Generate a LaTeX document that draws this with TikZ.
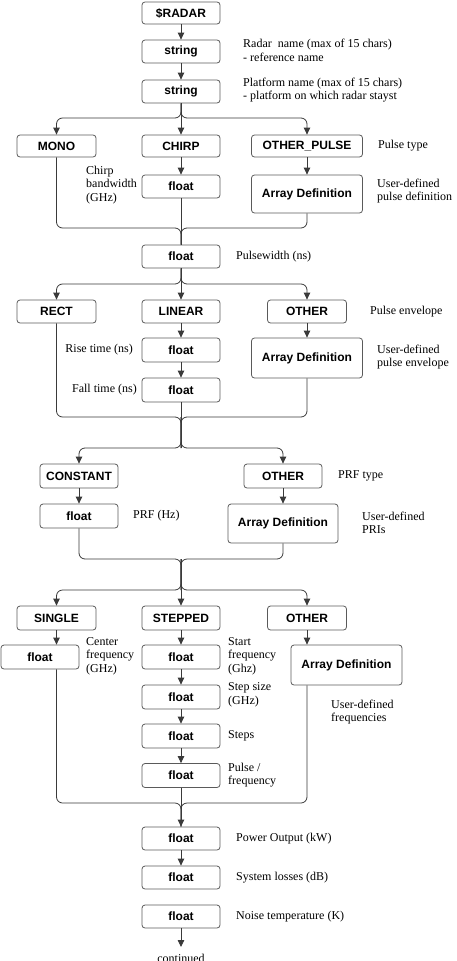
\documentclass[tikz,border=0pt]{standalone}
\usepackage{fontspec}
\setmainfont{Liberation Serif}
\setsansfont{Liberation Sans}
\usetikzlibrary{arrows.meta}
\definecolor{boxc}{HTML}{5A5A5A}
\definecolor{linec}{HTML}{3A3A3A}
\tikzset{
  box/.style={draw=boxc, line width=0.8pt, rounded corners=3pt, inner sep=0pt, align=center,
    font=\sffamily\bfseries\fontsize{12}{14}\selectfont, text=black},
  bx/.style 2 args={box, minimum width=#1, minimum height=#2},
  lbl/.style={anchor=west, inner sep=0pt, align=left, font=\fontsize{12}{13.5}\selectfont},
  lble/.style={anchor=east, inner sep=0pt, align=right, font=\fontsize{12}{13.5}\selectfont},
  conn/.style={draw=linec, line width=0.8pt, rounded corners=6pt},
  arr/.style={conn, -{Triangle[width=6.5pt,length=7pt]}},
}
\begin{document}
\begin{tikzpicture}[x=1pt,y=-1pt]
\useasboundingbox (0,0) rectangle (456,961);
% boxes
\node[bx={78}{22}] (radar) at (181,13) {\$RADAR};
\node[bx={78}{23}] (s1) at (181,51.5) {string};
\node[bx={78}{23}] (s2) at (181,91.5) {string};
\node[bx={79}{22}] (mono) at (56.5,146) {MONO};
\node[bx={78}{22}] (chirp) at (181,146) {CHIRP};
\node[bx={111}{22}] (opulse) at (307,146) {OTHER\_PULSE};
\node[bx={78}{23}] (cf) at (181,186.5) {float};
\node[bx={111}{38}] (apulse) at (307,194) {Array Definition};
\node[bx={78}{23}] (pw) at (181,256.5) {float};
\node[bx={79}{23}] (rect) at (56.5,311.5) {RECT};
\node[bx={78}{23}] (linear) at (181,311.5) {LINEAR};
\node[bx={79}{23}] (oenv) at (307,311.5) {OTHER};
\node[bx={78}{24}] (rise) at (181,350) {float};
\node[bx={78}{24}] (fall) at (181,390) {float};
\node[bx={111}{40}] (aenv) at (307,358) {Array Definition};
\node[bx={78}{24}] (const) at (79,476) {CONSTANT};
\node[bx={78}{24}] (oprf) at (283,476) {OTHER};
\node[bx={78}{24}] (prf) at (79,516) {float};
\node[bx={110}{39}] (apri) at (283,523.5) {Array Definition};
\node[bx={79}{24}] (single) at (56.5,618) {SINGLE};
\node[bx={78}{24}] (stepped) at (181,618) {STEPPED};
\node[bx={79}{24}] (ofreq) at (307,618) {OTHER};
\node[bx={78}{24}] (fs) at (40,657) {float};
\node[bx={78}{24}] (st1) at (181,657) {float};
\node[bx={78}{24}] (st2) at (181,697) {float};
\node[bx={78}{24}] (st3) at (181,736) {float};
\node[bx={78}{24}] (st4) at (181,775.5) {float};
\node[bx={111}{40}] (afreq) at (346.5,665) {Array Definition};
\node[bx={78}{23}] (power) at (181,838.5) {float};
\node[bx={78}{23}] (losses) at (181,877.5) {float};
\node[bx={78}{23}] (noise) at (181,916.5) {float};
% junction coordinates
\coordinate (j1) at (181,118);
\coordinate (m1) at (181,228);
\coordinate (j2) at (181,284);
\coordinate (m2) at (181,417);
\coordinate (j3) at (181,448);
\coordinate (m3) at (181,559);
\coordinate (j4) at (181,590);
\coordinate (m4) at (181,803);
\coordinate (cont) at (181,947);
% connectors
\draw[arr] (radar.south) -- (s1.north);
\draw[arr] (s1.south) -- (s2.north);
\draw[arr] (s2.south) -- (j1) -- (j1 -| mono.north) -- (mono.north);
\draw[arr] (s2.south) -- (chirp.north);
\draw[arr] (s2.south) -- (j1) -- (j1 -| opulse.north) -- (opulse.north);
\draw[arr] (chirp.south) -- (cf.north);
\draw[arr] (opulse.south) -- (apulse.north);
\draw[conn] (mono.south) -- (mono.south |- m1) -- (m1) -- (pw.north);
\draw[conn] (cf.south) -- (pw.north);
\draw[conn] (apulse.south) -- (apulse.south |- m1) -- (m1) -- (pw.north);
\draw[arr] (pw.south) -- (j2) -- (j2 -| rect.north) -- (rect.north);
\draw[arr] (pw.south) -- (linear.north);
\draw[arr] (pw.south) -- (j2) -- (j2 -| oenv.north) -- (oenv.north);
\draw[arr] (linear.south) -- (rise.north);
\draw[arr] (rise.south) -- (fall.north);
\draw[arr] (oenv.south) -- (aenv.north);
\draw[conn] (rect.south) -- (rect.south |- m2) -- (m2) -- (j3);
\draw[conn] (fall.south) -- (j3);
\draw[conn] (aenv.south) -- (aenv.south |- m2) -- (m2) -- (j3);
\draw[arr] (m2) -- (j3) -- (j3 -| const.north) -- (const.north);
\draw[arr] (m2) -- (j3) -- (j3 -| oprf.north) -- (oprf.north);
\draw[arr] (const.south) -- (prf.north);
\draw[arr] (oprf.south) -- (apri.north);
\draw[conn] (prf.south) -- (prf.south |- m3) -- (m3) -- (j4);
\draw[conn] (apri.south) -- (apri.south |- m3) -- (m3) -- (j4);
\draw[arr] (m3) -- (j4) -- (j4 -| single.north) -- (single.north);
\draw[arr] (m3) -- (stepped.north);
\draw[arr] (m3) -- (j4) -- (j4 -| ofreq.north) -- (ofreq.north);
\draw[arr] (single.south) -- (single.south |- fs.north);
\draw[arr] (stepped.south) -- (st1.north);
\draw[arr] (st1.south) -- (st2.north);
\draw[arr] (st2.south) -- (st3.north);
\draw[arr] (st3.south) -- (st4.north);
\draw[arr] (ofreq.south) -- (ofreq.south |- afreq.north);
\draw[conn] (single.south |- fs.south) -- (single.south |- m4) -- (m4) -- (power.north);
\draw[conn] (ofreq.south |- afreq.south) -- (ofreq.south |- m4) -- (m4) -- (power.north);
\draw[arr] (st4.south) -- (power.north);
\draw[arr] (power.south) -- (losses.north);
\draw[arr] (noise.south) -- (cont);
% labels
\node[lbl] (l1) at (243,50.5) {Radar\ \ name (max of 15 chars)\\- reference name};
\node[lbl] (l2) at (243,90) {Platform name (max of 15 chars)\\- platform on which radar stayst};
\node[lbl] (l3) at (378,146) {Pulse type};
\node[lbl] (l4) at (86,185) {Chirp\\bandwidth\\(GHz)};
\node[lbl] (l5) at (377,191) {User-defined\\pulse definition};
\node[lbl] (l6) at (236,256.5) {Pulsewidth (ns)};
\node[lbl] (l7) at (370,311.5) {Pulse envelope};
\node[lble] (l8) at (133,350) {Rise time (ns)};
\node[lble] (l9) at (137,390) {Fall time (ns)};
\node[lbl] (l10) at (377,357) {User-defined\\pulse envelope};
\node[lbl] (l11) at (338,476) {PRF type};
\node[lbl] (l12) at (133,516) {PRF (Hz)};
\node[lbl] (l13) at (362,523) {User-defined\\PRIs};
\node[lbl] (l14) at (86,656) {Center\\frequency\\(GHz)};
\node[lbl] (l15) at (228,656) {Start\\frequency\\(Ghz)};
\node[lbl] (l16) at (228,695) {Step size\\(GHz)};
\node[lbl] (l17) at (228,736) {Steps};
\node[lbl] (l18) at (228,775) {Pulse /\\frequency};
\node[lbl] (l19) at (331,712) {User-defined\\frequencies};
\node[lbl] (l20) at (236,838.5) {Power Output (kW)};
\node[lbl] (l21) at (236,877.5) {System losses (dB)};
\node[lbl] (l22) at (236,916.5) {Noise temperature (K)};
\node[anchor=base, inner sep=0pt, font=\fontsize{12}{13.5}\selectfont] (l23) at (181,962) {continued};
\end{tikzpicture}
\end{document}
